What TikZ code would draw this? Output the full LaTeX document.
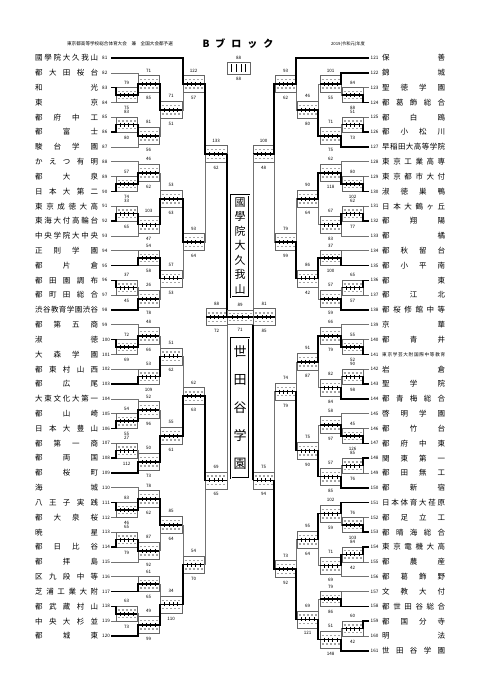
\documentclass[tikz,border=0pt]{standalone}
\usepackage{fontspec}
\setmainfont{Noto Sans CJK JP}
\newfontfamily\cjk{Noto Sans CJK JP}
\def\sprx#1{\ifx#1\relax\else\hfill#1\expandafter\sprx\fi}
\def\sprfirst#1{#1\sprx}
\newcommand\spread[2][63pt]{\makebox[#1][s]{\sprfirst#2\relax}}
\newcommand\setcol[4]{\expandafter\def\csname c#1a#2\endcsname{#3}\expandafter\def\csname c#1b#2\endcsname{#4}}
\setcol{L}{1}{116}{137}\setcol{L}{2}{138}{159}\setcol{L}{3}{160}{182}\setcol{L}{4}{183}{204}\setcol{L}{5}{205}{227}
\setcol{R}{1}{342}{363}\setcol{R}{2}{320}{341}\setcol{R}{3}{297}{318}\setcol{R}{4}{275}{296}\setcol{R}{5}{253}{274}
\setcol{R}{6}{206}{227}\setcol{L}{6}{253}{275}
\tikzset{
 lose/.style={draw=black!55, line width=0.6pt},
 win/.style={draw=black, line width=1.5pt},
 boxst/.style={draw=black!60, line width=0.5pt, fill=white},
 dig/.style={draw=black!35, line width=1.4pt, dash pattern=on 2pt off 2.2pt},
 tick/.style={draw=black, line width=0.5pt},
 sc/.style={font=\fontsize{4.5}{5}\selectfont, inner sep=0pt},
 nm/.style={font=\fontsize{7.5}{8}\selectfont, inner sep=0pt},
 num/.style={font=\fontsize{4.6}{5}\selectfont, inner sep=0pt},
 banner/.style={draw, double, double distance=1pt, line width=0.5pt, inner sep=0pt, align=center},
}
\newcommand\teamL[2]{%
 \pgfmathsetmacro\yy{58+(#1-81)*14.82}%
 \expandafter\xdef\csname yT#1\endcsname{\yy}%
 \node[nm,anchor=west] (n#1) at (35,\yy) {\spread{#2}};
 \node[num,anchor=west] (k#1) at (102,\yy) {#1};
 \coordinate (T#1) at (111,\yy);}
\newcommand\teamR[3][nm]{%
 \pgfmathsetmacro\yy{58+(#2-121)*14.82}%
 \expandafter\xdef\csname yT#2\endcsname{\yy}%
 \node[#1,anchor=west] (n#2) at (382,\yy) {\spread{#3}};
 \node[num,anchor=west] (k#2) at (370.5,\yy) {#2};
 \coordinate (T#2) at (369,\yy);}
\newcommand\drawbox{%
 \draw[boxst] (\xa,{\ym-\hh}) rectangle (\xb,{\ym+\hh});
 \draw[dig] ({\xa+1.5},{\ym-\hh/2}) -- ({\xb-1.5},{\ym-\hh/2});
 \draw[dig] ({\xa+1.5},{\ym+\hh/2}) -- ({\xb-1.5},{\ym+\hh/2});}
\newcommand\boxticks{%
 \foreach \k in {1,...,4} {\draw[tick] ({\xa+\k*(\xb-\xa)/5},{\ym-2}) -- ({\xa+\k*(\xb-\xa)/5},{\ym+2});}}
\newcommand\prep[5]{%
 \edef\yt{\csname y#1\endcsname}\edef\yb{\csname y#2\endcsname}%
 \edef\xa{\csname c#3a#4\endcsname}\edef\xb{\csname c#3b#4\endcsname}%
 \pgfmathsetmacro\ym{(\yt+\yb)/2}%
 \def\tmpo{#5}\ifx\tmpo\empty\else\def\ym{#5}\fi
 \pgfmathsetmacro\hh{min(8.5,(\yb-\yt)/2)}}
\newcommand\scores[2]{%
 \node[sc] at ({(\xa+\xb)/2},{\ym-\hh-5}) {#1};
 \node[sc] at ({(\xa+\xb)/2},{\ym+\hh+5.5}) {#2};}
% [y override] id, top, bottom, col, top score, bottom score, winner
\newcommand\ML[8][]{%
 \prep{#3}{#4}{L}{#5}{#1}%
 \expandafter\xdef\csname y#2\endcsname{\ym}%
 \coordinate (#2) at (\xb,\ym);
 \draw[lose] (#3) -- (\xa,\yt) -- (\xa,\yb) -- (#4);
 \drawbox
 \if t#8\draw[win] (#3) -- (\xa,\yt) -- (\xa,\ym) -- (#2);\else\draw[win] (#4) -- (\xa,\yb) -- (\xa,\ym) -- (#2);\fi
 \boxticks\scores{#6}{#7}}
\newcommand\MR[8][]{%
 \prep{#3}{#4}{R}{#5}{#1}%
 \expandafter\xdef\csname y#2\endcsname{\ym}%
 \coordinate (#2) at (\xa,\ym);
 \draw[lose] (#3) -- (\xb,\yt) -- (\xb,\yb) -- (#4);
 \drawbox
 \if t#8\draw[win] (#3) -- (\xb,\yt) -- (\xb,\ym) -- (#2);\else\draw[win] (#4) -- (\xb,\yb) -- (\xb,\ym) -- (#2);\fi
 \boxticks\scores{#6}{#7}}
\begin{document}
\begin{tikzpicture}[x=1pt,y=-1pt]
\useasboundingbox (0,0) rectangle (481,680);
\fill[white] (0,0) rectangle (481,680);
\node[font=\fontsize{4.6}{5}\selectfont] (hdr) at (120,44) {東京都高等学校総合体育大会　兼　全国大会都予選};
\node[font=\bfseries\fontsize{10}{11}\selectfont] (blk) at (238,44) {B\hspace{6pt}ブ\hspace{6pt}ロ\hspace{6pt}ッ\hspace{6pt}ク};
\node[font=\fontsize{4.3}{5}\selectfont] (yr) at (348,44) {2019(令和元)年度};
\teamL{81}{國學院大久我山}\teamL{82}{都大田桜台}\teamL{83}{和光}\teamL{84}{東京}
\teamL{85}{都府中工}\teamL{86}{都富士}\teamL{87}{駿台学園}\teamL{88}{かえつ有明}
\teamL{89}{都大泉}\teamL{90}{日本大第二}\teamL{91}{東京成徳大高}\teamL{92}{東海大付高輪台}
\teamL{93}{中央学院大中央}\teamL{94}{正則学園}\teamL{95}{都片倉}\teamL{96}{都田園調布}
\teamL{97}{都町田総合}\teamL{98}{渋谷教育学園渋谷}\teamL{99}{都第五商}\teamL{100}{淑徳}
\teamL{101}{大森学園}\teamL{102}{都東村山西}\teamL{103}{都広尾}\teamL{104}{大東文化大第一}
\teamL{105}{都山崎}\teamL{106}{日本大豊山}\teamL{107}{都第一商}\teamL{108}{都両国}
\teamL{109}{都桜町}\teamL{110}{海城}\teamL{111}{八王子実践}\teamL{112}{都大泉桜}
\teamL{113}{暁星}\teamL{114}{都日比谷}\teamL{115}{都拝島}\teamL{116}{区九段中等}
\teamL{117}{芝浦工業大附}\teamL{118}{都武蔵村山}\teamL{119}{中央大杉並}\teamL{120}{都城東}
\teamR{121}{保善}\teamR{122}{錦城}\teamR{123}{聖徳学園}\teamR{124}{都葛飾総合}
\teamR{125}{都白鴎}\teamR{126}{都小松川}\teamR{127}{早稲田大高等学院}\teamR{128}{東京工業高専}
\teamR{129}{東京都市大付}\teamR{130}{淑徳巣鴨}\teamR{131}{日本大鶴ヶ丘}\teamR{132}{都翔陽}
\teamR{133}{都橘}\teamR{134}{都秋留台}\teamR{135}{都小平南}\teamR{136}{都東}
\teamR{137}{都江北}\teamR{138}{都桜修館中等}\teamR{139}{京華}\teamR{140}{都青井}
\teamR[num]{141}{東京学芸大附国際中等教育}\teamR{142}{岩倉}\teamR{143}{聖学院}\teamR{144}{都青梅総合}
\teamR{145}{啓明学園}\teamR{146}{都竹台}\teamR{147}{都府中東}\teamR{148}{関東第一}
\teamR{149}{都田無工}\teamR{150}{都新宿}\teamR{151}{日本体育大荏原}\teamR{152}{都足立工}
\teamR{153}{都晴海総合}\teamR{154}{東京電機大高}\teamR{155}{都農産}\teamR{156}{都葛飾野}
\teamR{157}{文教大付}\teamR{158}{都世田谷総合}\teamR{159}{都国分寺}\teamR{160}{明法}
\teamR{161}{世田谷学園}
\ML{L1}{T83}{T84}{1}{79}{75}{t}
\ML{L2}{T82}{L1}{2}{71}{85}{b}
\ML{L3}{T85}{T86}{1}{83}{80}{b}
\ML{L4}{L3}{T87}{2}{81}{56}{t}
\ML{L5}{L2}{L4}{3}{71}{51}{t}
\ML{L6}{T81}{L5}{4}{122}{57}{t}
\ML{L7}{T89}{T90}{1}{57}{74}{b}
\ML{L8}{T88}{L7}{2}{46}{62}{b}
\ML{L9}{T91}{T92}{1}{33}{65}{b}
\ML{L10}{L9}{T93}{2}{103}{47}{t}
\ML{L11}{L8}{L10}{3}{53}{63}{b}
\ML{L12}{T94}{T95}{2}{54}{58}{b}
\ML{L13}{T96}{T97}{1}{37}{45}{t}
\ML{L14}{L13}{T98}{2}{26}{78}{b}
\ML{L15}{L12}{L14}{3}{57}{53}{t}
\ML[242]{L16}{L11}{L15}{4}{93}{64}{t}
\ML[154]{L17}{L6}{L16}{5}{133}{62}{t}
\ML{L18}{T100}{T101}{1}{72}{69}{t}
\ML{L19}{T99}{L18}{2}{48}{66}{b}
\ML{L20}{T102}{T103}{2}{53}{109}{b}
\ML{L21}{L19}{L20}{3}{51}{62}{b}
\ML{L22}{T105}{T106}{1}{54}{55}{b}
\ML{L23}{T104}{L22}{2}{52}{96}{b}
\ML{L24}{T107}{T108}{1}{27}{112}{b}
\ML{L25}{L24}{T109}{2}{50}{73}{b}
\ML{L26}{L23}{L25}{3}{55}{61}{b}
\ML{L27}{L21}{L26}{4}{62}{63}{b}
\ML{L28}{T111}{T112}{1}{83}{46}{t}
\ML{L29}{T110}{L28}{2}{78}{62}{b}
\ML{L30}{T113}{T114}{1}{65}{79}{b}
\ML{L31}{L30}{T115}{2}{87}{92}{t}
\ML{L32}{L29}{L31}{3}{85}{64}{t}
\ML{L33}{T116}{T117}{2}{61}{65}{b}
\ML{L34}{T118}{T119}{1}{63}{73}{t}
\ML{L35}{L34}{T120}{2}{49}{99}{b}
\ML{L36}{L33}{L35}{3}{34}{110}{b}
\ML{L37}{L32}{L36}{4}{54}{70}{b}
\ML{L38}{L27}{L37}{5}{69}{65}{t}
\MR{R1}{T123}{T124}{1}{84}{88}{b}
\MR{R2}{T122}{R1}{2}{101}{55}{t}
\MR{R3}{T125}{T126}{1}{51}{73}{b}
\MR{R4}{R3}{T127}{2}{71}{75}{b}
\MR{R5}{R2}{R4}{3}{46}{80}{b}
\MR{R6}{T121}{R5}{4}{93}{62}{t}
\MR{R7}{T129}{T130}{1}{80}{102}{b}
\MR{R8}{T128}{R7}{2}{62}{118}{b}
\MR{R9}{T131}{T132}{1}{62}{77}{b}
\MR{R10}{R9}{T133}{2}{67}{83}{t}
\MR{R11}{R8}{R10}{3}{90}{64}{t}
\MR{R12}{T134}{T135}{2}{37}{100}{b}
\MR{R13}{T136}{T137}{1}{65}{57}{t}
\MR{R14}{R13}{T138}{2}{57}{59}{b}
\MR{R15}{R12}{R14}{3}{86}{42}{t}
\MR[242]{R16}{R11}{R15}{4}{79}{99}{b}
\MR[154]{R17}{R6}{R16}{5}{100}{48}{t}
\MR{R18}{T140}{T141}{1}{55}{52}{b}
\MR{R19}{T139}{R18}{2}{66}{79}{b}
\MR{R20}{T142}{T143}{1}{90}{98}{b}
\MR{R21}{R20}{T144}{2}{82}{84}{b}
\MR{R22}{R19}{R21}{3}{91}{87}{t}
\MR{R23}{T146}{T147}{1}{45}{126}{b}
\MR{R24}{T145}{R23}{2}{58}{97}{b}
\MR{R25}{T148}{T149}{1}{85}{76}{t}
\MR{R26}{R25}{T150}{2}{57}{85}{b}
\MR{R27}{R24}{R26}{3}{75}{90}{b}
\MR[391.5]{R28}{R22}{R27}{4}{74}{79}{b}
\MR{R29}{T152}{T153}{1}{76}{103}{b}
\MR{R30}{T151}{R29}{2}{102}{59}{t}
\MR{R31}{T154}{T155}{1}{84}{42}{t}
\MR{R32}{R31}{T156}{2}{71}{69}{t}
\MR{R33}{R30}{R32}{3}{95}{64}{t}
\MR{R34}{T157}{T158}{2}{79}{86}{b}
\MR{R35}{T159}{T160}{1}{60}{42}{t}
\MR{R36}{R35}{T161}{2}{51}{148}{b}
\MR{R37}{R34}{R36}{3}{69}{121}{b}
\MR[569]{R38}{R33}{R37}{4}{73}{92}{b}
\MR{R39}{R28}{R38}{5}{75}{94}{b}
\MR{LS}{L17}{L38}{6}{88}{72}{t}
\ML{RS}{R17}{R39}{6}{81}{85}{b}
\def\xa{227}\def\xb{253}\pgfmathsetmacro\ym{(\csname yLS\endcsname+\csname yRS\endcsname)/2}\def\hh{7}
\coordinate (F) at (240,\ym);
\drawbox
\draw[win] (LS) ++(21,0) -- (227,\ym) -- (253,\ym);
\boxticks\scores{89}{71}
\def\xa{227}\def\xb{250}\def\ym{68}\def\hh{6}
\draw[boxst] (\xa,{\ym-\hh}) rectangle (\xb,{\ym+\hh});
\foreach \k in {1,...,4} {\draw[tick] ({\xa+\k*(\xb-\xa)/5},{\ym-4}) -- ({\xa+\k*(\xb-\xa)/5},{\ym+4});}
\node[sc] at (238.5,58) {88};\node[sc] at (238.5,78.5) {88};
\node[banner, minimum width=18pt, minimum height=102pt, font=\fontsize{11}{14.5}\selectfont] (b1) at (240,246) {國\\學\\院\\大\\久\\我\\山};
\node[banner, minimum width=18pt, minimum height=140pt, font=\fontsize{13}{28}\selectfont] (b2) at (240,408) {世\\田\\谷\\学\\園};
\end{tikzpicture}
\end{document}
